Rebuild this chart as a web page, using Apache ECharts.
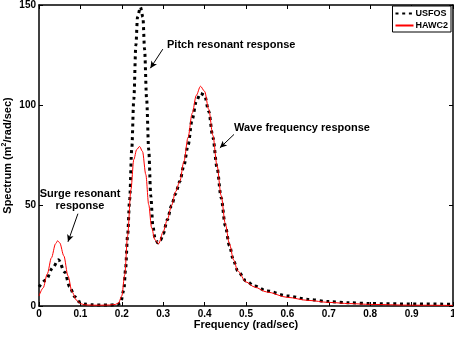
<!DOCTYPE html>
<html>
<head>
<meta charset="utf-8">
<script src="https://cdn.jsdelivr.net/npm/echarts@6/dist/echarts.min.js"></script>
<style>html,body{margin:0;padding:0;background:#fff}#c{width:454px;height:338px}</style>
</head>
<body>
<div id="c"></div>
<script>
const xTicks = [0, 0.1, 0.2, 0.3, 0.4, 0.5, 0.6, 0.7, 0.8, 0.9, 1];
const yTicks = [0, 50, 100, 150];
const seriesNames = ['USFOS', 'HAWC2'];

const usfosFreq = [0, 0.017, 0.033, 0.047, 0.062, 0.074, 0.086, 0.098, 0.11, 0.13, 0.15, 0.17, 0.19, 0.197, 0.205, 0.209, 0.214, 0.219, 0.224, 0.229, 0.234, 0.238, 0.245, 0.251, 0.255, 0.26, 0.265, 0.27, 0.275, 0.28, 0.287, 0.294, 0.3, 0.31, 0.32, 0.33, 0.34, 0.35, 0.36, 0.37, 0.38, 0.39, 0.40, 0.41, 0.42, 0.43, 0.44, 0.45, 0.46, 0.47, 0.48, 0.5, 0.52, 0.55, 0.6, 0.65, 0.7, 0.75, 0.8, 0.9, 1.0];
const usfosSpec = [9.5, 13, 19, 23, 17, 9.7, 4.7, 2, 1, 0.6, 0.5, 0.5, 0.8, 1.5, 8, 18, 35, 53, 78, 103, 130, 144, 149, 144, 128, 103, 78, 55, 40, 34, 31.5, 33, 36, 43, 50, 56, 62, 70, 80, 93, 102, 106, 105, 97, 84, 69, 54, 40, 30, 22.5, 17.5, 12.5, 10, 7.5, 5, 3.3, 2.2, 1.6, 1.2, 1, 0.9];

const hawc2Freq = [0, 0.01, 0.02, 0.03, 0.04, 0.045, 0.05, 0.06, 0.07, 0.08, 0.09, 0.1, 0.11, 0.13, 0.15, 0.17, 0.185, 0.192, 0.2, 0.207, 0.214, 0.222, 0.229, 0.236, 0.243, 0.25, 0.258, 0.265, 0.272, 0.28, 0.289, 0.3, 0.31, 0.32, 0.33, 0.34, 0.35, 0.36, 0.37, 0.38, 0.39, 0.40, 0.41, 0.42, 0.43, 0.44, 0.45, 0.46, 0.47, 0.48, 0.5, 0.52, 0.55, 0.6, 0.65, 0.7, 0.75, 0.8, 0.9, 1.0];
const hawc2Spec = [5, 9, 16, 24, 31, 32.5, 31.5, 25, 15, 7, 3, 1.2, 0.6, 0.4, 0.4, 0.5, 0.8, 1.5, 5, 15.5, 35, 58, 73, 78, 79.5, 77, 65.5, 50.5, 39, 33, 31, 37, 43, 50, 57, 62, 72, 84, 96, 105, 109.5, 107, 98, 85, 70, 55, 41, 31, 23, 17.5, 12, 9.5, 7, 4.3, 2.8, 1.8, 1.2, 0.8, 0.4, 0.3];

// annotation arrows: [startFreq, startSpec, endFreq, endSpec]
const arrowSurge = [0.094, 46, 0.07, 32];
const arrowPitch = [0.299, 128, 0.269, 118.5];
const arrowWave = [0.471, 85.5, 0.437, 78.8];

const FONT = '"Liberation Sans", Arial, sans-serif';
const pair = (xs, ys) => xs.map((x, i) => [x, ys[i]]);
const arrow = a => [{coord: [a[0], a[1]]}, {coord: [a[2], a[3]]}];

const chart = echarts.init(document.getElementById('c'), null, {renderer: 'canvas'});
const axisCommon = {
  type: 'value',
  axisLine: {show: true, onZero: false, lineStyle: {color: '#000', width: 1.5}},
  axisTick: {show: true, inside: true, length: 4, lineStyle: {color: '#000', width: 1}},
  splitLine: {show: false}
};
chart.setOption({
  animation: false,
  backgroundColor: '#fff',
  grid: {left: 39, right: 1, top: 5, bottom: 32, containLabel: false, outerBoundsMode: 'none'},
  xAxis: [
    Object.assign({}, axisCommon, {
      min: 0, max: 1, interval: 0.1, position: 'bottom',
      name: 'Frequency (rad/sec)', nameLocation: 'middle', nameGap: 13, nameMoveOverlap: false,
      nameTextStyle: {color: '#000', fontFamily: FONT, fontWeight: 'bold', fontSize: 11},
      axisLabel: {color: '#000', fontFamily: FONT, fontWeight: 'bold', fontSize: 10, margin: 3,
        formatter: v => { const t = xTicks.find(x => Math.abs(x - v) < 1e-9); return t === undefined ? '' : String(t); }}
    }),
    Object.assign({}, axisCommon, {min: 0, max: 1, interval: 0.1, position: 'top', axisLabel: {show: false}})
  ],
  yAxis: [
    Object.assign({}, axisCommon, {
      min: 0, max: 150, interval: 50, position: 'left',
      name: '{t|Spectrum (m}{sup|2}{t|/rad/sec)}', nameLocation: 'middle', nameGap: 24, nameMoveOverlap: false,
      nameTextStyle: {color: '#000', fontFamily: FONT, fontWeight: 'bold', fontSize: 11,
        rich: {
          t: {color: '#000', fontFamily: FONT, fontWeight: 'bold', fontSize: 11, lineHeight: 14},
          sup: {color: '#000', fontFamily: FONT, fontWeight: 'bold', fontSize: 7, lineHeight: 14, verticalAlign: 'top', padding: [0, 0, 4, 0]}
        }},
      axisLabel: {color: '#000', fontFamily: FONT, fontWeight: 'bold', fontSize: 10, margin: 3,
        formatter: v => { const t = yTicks.find(y => Math.abs(y - v) < 1e-9); return t === undefined ? '' : String(t); }}
    }),
    Object.assign({}, axisCommon, {min: 0, max: 150, interval: 50, position: 'right', axisLabel: {show: false}})
  ],
  legend: {
    orient: 'vertical', right: 3, top: 6,
    backgroundColor: '#fff', borderColor: '#000', borderWidth: 1, borderRadius: 0,
    padding: [3, 3, 2, 2], itemGap: 3, itemWidth: 18, itemHeight: 8,
    itemStyle: {opacity: 0},
    textStyle: {color: '#000', fontFamily: FONT, fontWeight: 'bold', fontSize: 9, padding: [0, 0, 0, -3]},
    data: seriesNames
  },
  series: [
    {
      name: seriesNames[0], type: 'line', xAxisIndex: 0, yAxisIndex: 0,
      data: pair(usfosFreq, usfosSpec), showSymbol: false, symbol: 'none',
      smooth: 0.3, smoothMonotone: 'x',
      lineStyle: {color: '#000', width: 3, type: [3, 3.7], cap: 'butt'},
      itemStyle: {color: '#000'},
      z: 2
    },
    {
      name: seriesNames[1], type: 'line', xAxisIndex: 0, yAxisIndex: 0,
      data: pair(hawc2Freq, hawc2Spec), showSymbol: false, symbol: 'none',
      smooth: 0.3, smoothMonotone: 'x',
      lineStyle: {color: '#ff0000', width: 1},
      itemStyle: {color: '#ff0000'},
      z: 3,
      markLine: {
        silent: true, symbol: ['none', 'arrow'], symbolSize: [5, 7],
        lineStyle: {color: '#000', width: 1, type: 'solid'},
        label: {show: false},
        data: [arrow(arrowSurge), arrow(arrowPitch), arrow(arrowWave)]
      }
    }
  ],
  graphic: [
    {type: 'text', style: {text: 'Surge resonant\nresponse', x: 80, y: 200, align: 'center', verticalAlign: 'middle', lineHeight: 12, fill: '#000', font: 'bold 11px ' + FONT}},
    {type: 'text', style: {text: 'Pitch resonant response', x: 167, y: 45, verticalAlign: 'middle', fill: '#000', font: 'bold 11px ' + FONT}},
    {type: 'text', style: {text: 'Wave frequency response', x: 234, y: 128, verticalAlign: 'middle', fill: '#000', font: 'bold 11px ' + FONT}}
  ]
});
</script>
</body>
</html>
